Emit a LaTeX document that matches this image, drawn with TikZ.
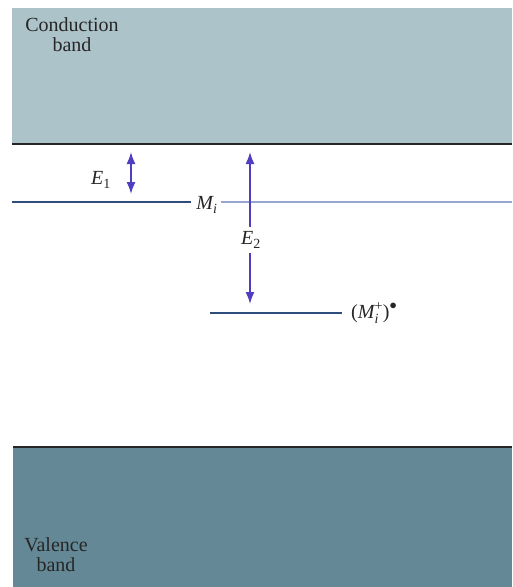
\documentclass[tikz,border=0pt]{standalone}
\usepackage{amsmath}
\usepackage{fontspec}
\setmainfont{Liberation Serif}
\usetikzlibrary{arrows.meta}
\definecolor{condc}{HTML}{ADC3CA}
\definecolor{valc}{HTML}{648896}
\definecolor{levc}{HTML}{2E4C7C}
\definecolor{arrc}{HTML}{4F3FC0}
\definecolor{dotc}{HTML}{96A6CE}
\newcommand\tv[1]{\text{\itshape #1}}
\tikzset{
  edge/.style={line width=1.6pt, black!85},
  level/.style={line width=1.5pt, levc},
  tipx/.tip={Latex[length=12pt,width=9pt]},
  arr/.style={line width=1.6pt, arrc, -tipx},
  darr/.style={line width=1.6pt, arrc, tipx-tipx},
  lbl/.style={font=\fontsize{20}{20}\selectfont, text=black!85, inner sep=1pt},
}
\begin{document}
\begin{tikzpicture}[x=1pt,y=-1pt]
\useasboundingbox (0,0) rectangle (512,587);
\fill[white] (0,0) rectangle (512,587);
% bands
\fill[condc] (12,8) rectangle (512,144);
\fill[valc] (13,447) rectangle (512,587);
\coordinate (cbL) at (12,144); \coordinate (cbR) at (512,144);
\coordinate (vbL) at (13,447); \coordinate (vbR) at (512,447);
\draw[edge] (cbL) -- (cbR);
\draw[edge] (vbL) -- (vbR);
\node[lbl, align=center] (ct) at (72,35) {Conduction\\band};
\node[lbl, align=center] (vt) at (56,555) {Valence\\band};
% Mi level
\node[lbl] (mi) at (207,205) {$\tv{M}_{\tv{i}}$};
\coordinate (miL) at (12,202);
\coordinate (miM) at (191,202);
\coordinate (miD) at (221,202);
\coordinate (miR) at (512,202);
\draw[level] (miL) -- (miM);
\draw[line width=1.2pt, dotc] (miD) -- (miR);
% Mi+ level
\node[lbl, anchor=west] (mip) at (350,313) {$\text{(}\tv{M}_{\tv{i}}^{\text{+}}\text{)}^{\bullet}$};
\coordinate (mipL) at (210,313);
\coordinate (mipR) at (342,313);
\draw[level] (mipL) -- (mipR);
% E1
\coordinate (e1t) at (131,152);
\coordinate (e1b) at (131,194);
\draw[darr] (e1b) -- (e1t);
\node[lbl] (e1) at (101,180) {$\tv{E}_{\text{1}}$};
% E2
\node[lbl] (e2) at (251,240) {$\tv{E}_{\text{2}}$};
\coordinate (e2t) at (250,152);
\coordinate (e2b) at (250,304);
\draw[arr] (e2.north -| e2t) ++(0,-4) -- (e2t);
\draw[arr] (e2.south -| e2b) ++(0,4) -- (e2b);
\end{tikzpicture}
\end{document}
